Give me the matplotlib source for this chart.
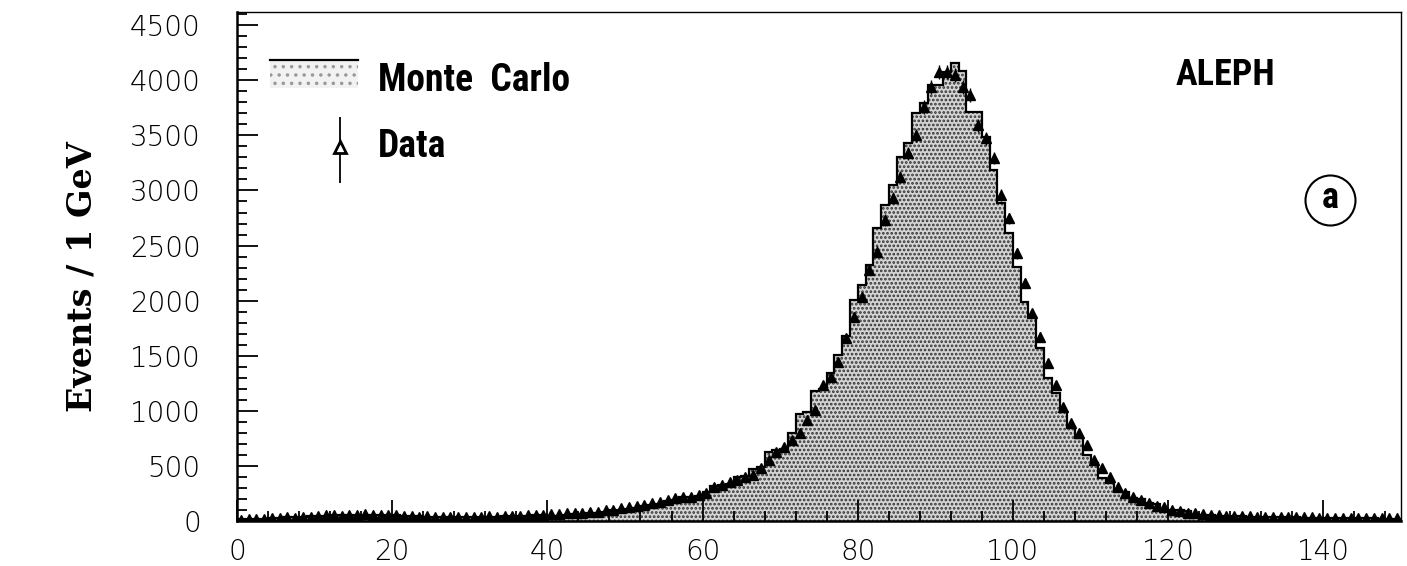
import matplotlib
matplotlib.use("Agg")
import matplotlib.pyplot as plt
from matplotlib.patches import Rectangle
import numpy as np

# 1 GeV bins from 0 to 150 GeV
bin_edges = np.arange(0, 151, 1)

# Monte Carlo prediction, events per bin
mc_counts = [
    15, 18, 20, 22, 25, 28, 32, 36, 40, 42,
    45, 48, 50, 52, 52, 54, 55, 55, 54, 52,
    50, 48, 45, 42, 40, 38, 36, 35, 35, 35,
    36, 37, 38, 40, 42, 44, 46, 48, 52, 56,
    45, 48, 55, 60, 65, 70, 75, 85, 100, 104,
    110, 118, 135, 145, 150, 185, 192, 215, 222, 225,
    266, 318, 327, 335, 395, 405, 475, 488, 630, 640,
    650, 798, 975, 990, 1180, 1195, 1340, 1506, 1679, 2005,
    2141, 2323, 2656, 2867, 3049, 3300, 3427, 3705, 3796, 3956,
    3956, 4077, 4153, 4086, 3714, 3714, 3487, 3185, 2883, 2611,
    2308, 1990, 1854, 1567, 1295, 1159, 992, 856, 750, 599,
    524, 387, 342, 270, 262, 210, 202, 165, 155, 110,
    102, 98, 92, 60, 55, 52, 48, 45, 44, 42,
    40, 38, 37, 35, 34, 33, 32, 30, 30, 29,
    28, 27, 26, 25, 25, 24, 23, 22, 22, 21,
]

# Measured events per bin
data_counts = [
    12, 20, 15, 22, 28, 25, 35, 30, 38, 40,
    45, 50, 55, 48, 58, 52, 60, 55, 58, 50,
    52, 48, 45, 40, 42, 38, 35, 40, 36, 38,
    35, 40, 42, 38, 45, 48, 45, 50, 55, 58,
    62, 65, 70, 72, 76, 84, 86, 98, 100, 118,
    130, 138, 145, 160, 175, 190, 206, 220, 220, 236,
    251, 311, 327, 357, 372, 402, 417, 478, 553, 629,
    674, 735, 796, 916, 1007, 1234, 1309, 1445, 1658, 1854,
    2035, 2278, 2444, 2731, 2928, 3124, 3337, 3503, 3759, 3941,
    4077, 4077, 4047, 3941, 3866, 3593, 3475, 3294, 2958, 2747,
    2429, 2157, 1884, 1672, 1431, 1234, 1037, 886, 796, 690,
    553, 478, 402, 311, 251, 220, 190, 160, 136, 124,
    100, 91, 76, 70, 60, 54, 50, 48, 46, 44,
    42, 40, 39, 38, 36, 35, 34, 33, 32, 31,
    30, 30, 29, 28, 27, 27, 26, 25, 25, 24,
]

label_font = ["Roboto Condensed", "DejaVu Sans"]
tick_font = ["DejaVu Sans"]

centers = 0.5 * (bin_edges[:-1] + bin_edges[1:])
mc = np.array(mc_counts, dtype=float)
data = np.array(data_counts, dtype=float)

plt.rcParams["hatch.linewidth"] = 1.3
fig = plt.figure(figsize=(14.07, 5.66), dpi=100)
ax = fig.add_axes([0.1684, 0.0795, 0.8273, 0.8993])

# MC histogram: stippled fill with a black outline
ax.stairs(mc, bin_edges, fill=True, facecolor="#d4d4d4", edgecolor="#333333",
          hatch="....", linewidth=0)
ax.stairs(mc, bin_edges, color="black", linewidth=1.6)

# data points with statistical errors
ax.errorbar(centers, data, yerr=np.sqrt(data), fmt="^", color="black",
            markersize=7, elinewidth=1.0, capsize=0)

ax.set_xlim(0, 150)
ax.set_ylim(0, 4620)
ax.set_xticks(np.arange(0, 141, 20))
ax.set_xticks(np.arange(0, 151, 4), minor=True)
ax.set_yticks(np.arange(0, 4501, 500))
ax.set_yticks(np.arange(0, 4601, 100), minor=True)
ax.tick_params(which="both", direction="in", width=1.3, colors="black")
ax.tick_params(which="major", length=15)
ax.tick_params(which="minor", length=7)
ax.tick_params(axis="y", pad=26)
ax.tick_params(axis="x", pad=12)
for lab in ax.get_xticklabels() + ax.get_yticklabels():
    lab.set_fontfamily(tick_font)
    lab.set_fontweight(200)
    lab.set_fontsize(20)

ax.spines["left"].set_linewidth(1.8)
ax.spines["bottom"].set_linewidth(1.8)
ax.spines["top"].set_linewidth(1.0)
ax.spines["right"].set_linewidth(1.0)

fig.text(0.058, 0.511, "Events / 1 GeV", rotation=90, ha="center", va="center",
         fontsize=24, fontweight="bold", family=["DejaVu Serif"])

# legend drawn by hand
ax.add_patch(Rectangle((0.028, 0.851), 0.076, 0.055, transform=ax.transAxes,
                       facecolor="#f2f2f2", edgecolor="#999999", hatch="..",
                       linewidth=0))
ax.plot([0.028, 0.104], [0.906, 0.906], transform=ax.transAxes, color="black",
        linewidth=1.6)
ax.text(0.121, 0.866, "Monte  Carlo", transform=ax.transAxes, va="center",
        ha="left", fontsize=27, fontweight="bold", family=label_font)
ax.errorbar([0.0885], [0.735], yerr=[[0.071], [0.059]], fmt="^", color="black",
            markersize=9, markerfacecolor="white", markeredgewidth=2,
            elinewidth=1.3, capsize=0, transform=ax.transAxes)
ax.text(0.121, 0.735, "Data", transform=ax.transAxes, va="center", ha="left",
        fontsize=27, fontweight="bold", family=label_font)

ax.text(0.806, 0.876, "ALEPH", transform=ax.transAxes, va="center", ha="left",
        fontsize=26, fontweight="bold", family=label_font)
ax.plot([0.939], [0.631], transform=ax.transAxes, marker="o", markersize=36,
        markerfacecolor="white", markeredgecolor="black", markeredgewidth=1.5)
ax.text(0.939, 0.634, "a", transform=ax.transAxes, va="center", ha="center",
        fontsize=26, fontweight="bold", family=label_font)

fig.savefig("out.png", dpi=100)
